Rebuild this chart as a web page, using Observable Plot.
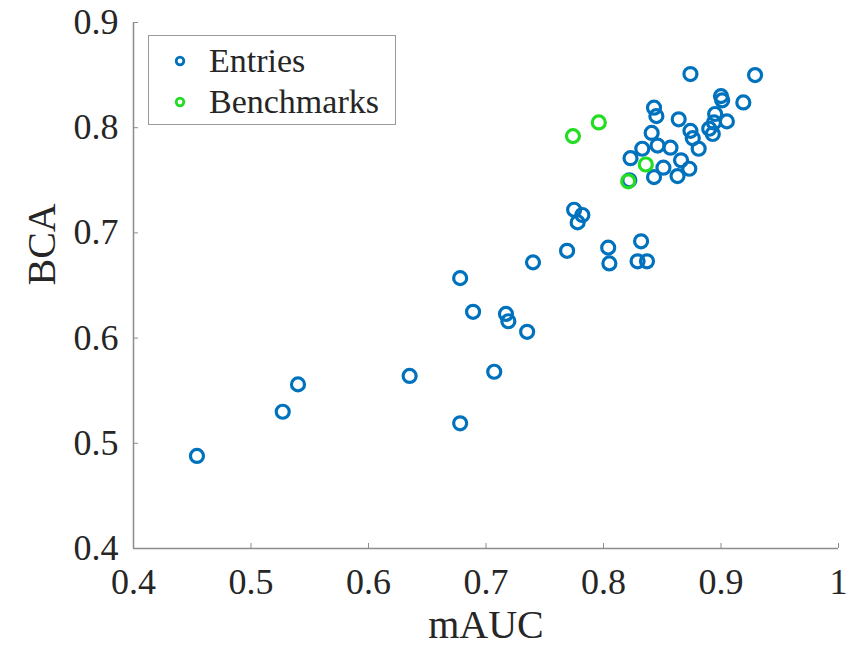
<!DOCTYPE html>
<html>
<head>
<meta charset="utf-8">
<script src="https://cdn.jsdelivr.net/npm/d3@7"></script>
<script src="https://cdn.jsdelivr.net/npm/@observablehq/plot@0.6"></script>
<style>
  html, body { margin: 0; padding: 0; background: #fff; }
  #wrap { position: relative; width: 866px; height: 648px; font-family: "Liberation Serif", "Times New Roman", serif; }
  #wrap svg text { font-family: "Liberation Serif", "Times New Roman", serif; }
  #legend { position: absolute; left: 148px; top: 35px; width: 246px; height: 88px; border: 1px solid #999; background: #fff; }
  .row { position: absolute; left: 0; height: 36px; display: flex; align-items: center; font-size: 34px; color: #262626; }
  .row svg { margin-left: 25px; margin-right: 23px; }
</style>
</head>
<body>
<div id="wrap"></div>
<script>
// Data
const entriesX = [0.454,0.527,0.540,0.635,0.678,0.678,0.689,0.707,0.717,0.719,0.735,0.740,0.769,0.775,0.782,0.778,0.804,0.805,0.832,0.829,0.837,0.822,0.874,0.929,0.900,0.901,0.919,0.843,0.845,0.864,0.895,0.905,0.894,0.890,0.893,0.874,0.876,0.881,0.841,0.833,0.846,0.857,0.823,0.851,0.843,0.866,0.873,0.863];
const entriesY = [0.488,0.530,0.556,0.564,0.657,0.519,0.625,0.568,0.623,0.616,0.606,0.672,0.683,0.722,0.717,0.710,0.686,0.671,0.692,0.673,0.673,0.750,0.851,0.850,0.830,0.826,0.824,0.819,0.811,0.808,0.813,0.806,0.805,0.799,0.794,0.797,0.790,0.780,0.795,0.780,0.783,0.781,0.771,0.762,0.753,0.769,0.761,0.754];
const benchX = [0.774,0.796,0.836,0.821];
const benchY = [0.792,0.805,0.765,0.749];
const xTicks = [0.4,0.5,0.6,0.7,0.8,0.9,1.0];
const yTicks = [0.4,0.5,0.6,0.7,0.8,0.9];
const xLabel = "mAUC";
const yLabel = "BCA";
const seriesNames = ["Entries","Benchmarks"];
const seriesColors = ["#0072BD","#22dd22"];

const entries = entriesX.map((x,i)=>({x, y: entriesY[i]}));
const bench = benchX.map((x,i)=>({x, y: benchY[i]}));
const fmt = d => d === 1 ? "1" : d.toFixed(1);
const axisColor = "#8c8c8c";

const chart = Plot.plot({
  width: 866,
  height: 648,
  marginLeft: 133,
  marginRight: 28,
  marginTop: 22,
  marginBottom: 100,
  style: {fontFamily: '"Liberation Serif", "Times New Roman", serif', color: "#262626", background: "#fff"},
  x: {domain: [0.4, 1.0]},
  y: {domain: [0.4, 0.9]},
  marks: [
    Plot.ruleX([0.4], {stroke: axisColor, strokeWidth: 1.5}),
    Plot.ruleY([0.4], {stroke: axisColor, strokeWidth: 1.5}),
    Plot.axisX({ticks: xTicks, tickFormat: fmt, tickSize: -5, tickPadding: 25, stroke: axisColor, fontSize: 36, label: null}),
    Plot.axisY({ticks: yTicks, tickFormat: fmt, tickSize: -5, tickPadding: 20, stroke: axisColor, fontSize: 36, label: null}),
    Plot.text([xLabel], {frameAnchor: "bottom", dy: 77, fontSize: 40, lineAnchor: "middle", fill: "#262626"}),
    Plot.text([yLabel], {frameAnchor: "left", dx: -91, rotate: -90, fontSize: 40, lineAnchor: "middle", fill: "#262626"}),
    Plot.dot(entries, {x: "x", y: "y", r: 6.5, stroke: seriesColors[0], strokeWidth: 3.2, fill: "none"}),
    Plot.dot(bench, {x: "x", y: "y", r: 6.5, stroke: seriesColors[1], strokeWidth: 3.2, fill: "none"})
  ]
});

const wrap = document.getElementById("wrap");
wrap.appendChild(chart);

const legend = document.createElement("div");
legend.id = "legend";
seriesNames.forEach((name, i) => {
  const row = document.createElement("div");
  row.className = "row";
  row.style.top = (i === 0 ? 7 : 48) + "px";
  row.innerHTML = `<svg width="12" height="12"><circle cx="6" cy="6" r="3.8" fill="none" stroke="${seriesColors[i]}" stroke-width="2.8"/></svg><span>${name}</span>`;
  legend.appendChild(row);
});
wrap.appendChild(legend);
</script>
</body>
</html>
